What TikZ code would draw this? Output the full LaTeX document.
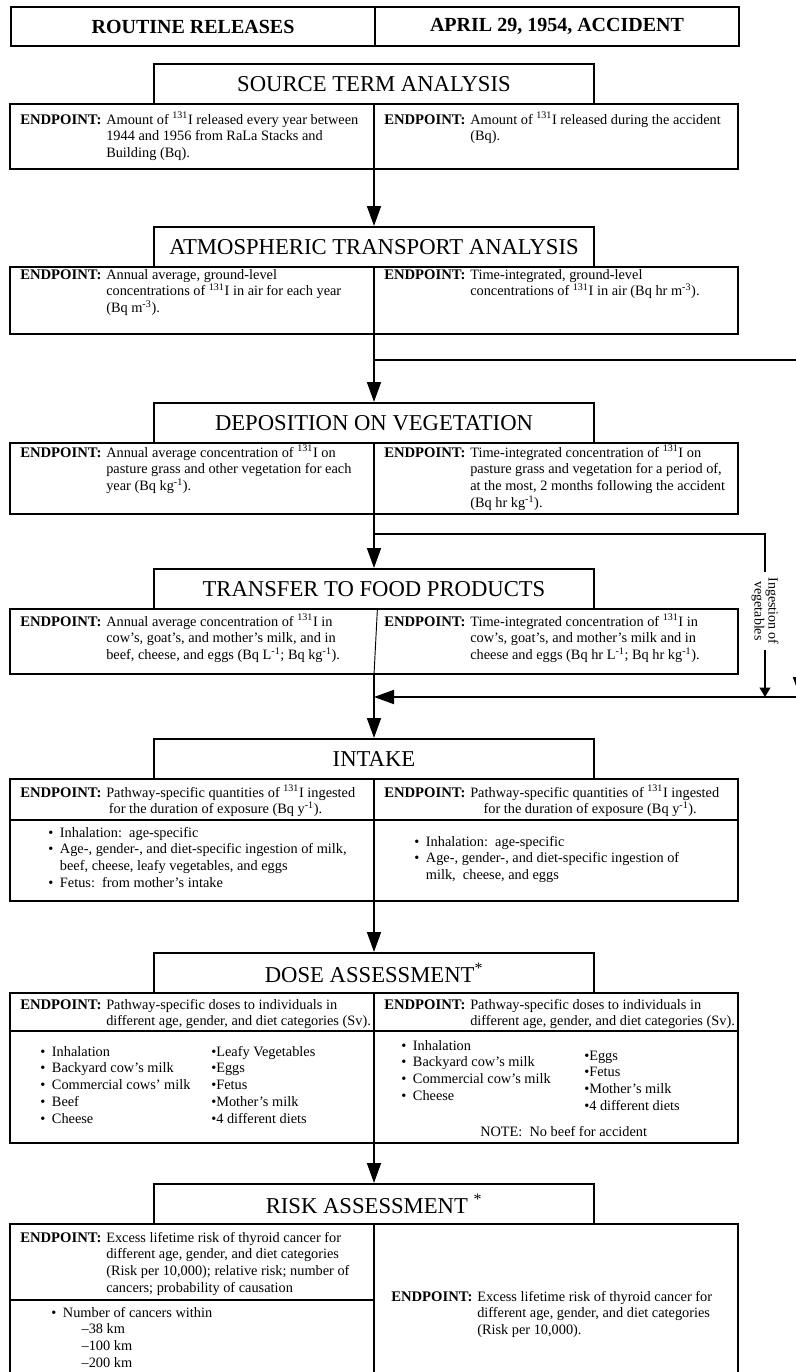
\documentclass[tikz,border=0pt]{standalone}
\usepackage{fontspec}
\setmainfont{Liberation Serif}
\usetikzlibrary{arrows.meta}
\newcommand{\epfont}{\fontsize{10.75}{12.6}\selectfont}
\newcommand{\iso}{\textsuperscript{131}I}
\newcommand{\supx}[1]{\textsuperscript{#1}}
\newcommand{\ept}[1]{\makebox[64.5pt][l]{\fontsize{11}{12.6}\selectfont\textbf{ENDPOINT:}}\begin{tabular}[t]{@{}l@{}}#1\end{tabular}}
\newcommand{\blist}[1]{\begin{tabular}[t]{@{}l@{\hspace{5pt}}l@{}}#1\end{tabular}}
\newcommand{\plist}[1]{\begin{tabular}[t]{@{}l@{}}#1\end{tabular}}
\begin{document}
\begin{tikzpicture}[x=0.75pt,y=-0.75pt,
  hdr/.style={draw, line width=1.5pt, anchor=north west, minimum width=364*0.75pt, minimum height=39*0.75pt, font=\fontsize{15}{17}\selectfont\bfseries},
  stage/.style={draw, line width=1.5pt, anchor=north, minimum width=440*0.75pt, minimum height=40*0.75pt, font=\fontsize{17}{20}\selectfont},
  epbox/.style={draw, line width=1.5pt, anchor=north, minimum width=728*0.75pt},
  txt/.style={anchor=base west, inner sep=0pt, font=\epfont},
  div/.style={line width=1pt},
  link/.style={line width=1.3pt},
  arr/.style={link, -{Triangle[length=15pt,width=10.5pt]}},
  arrsm/.style={link, -{Triangle[length=7pt,width=8pt]}}]
\useasboundingbox (0,0) rectangle (796,1372);

\node[hdr] (hdrL) at (10,6) {ROUTINE RELEASES};
\node[hdr] (hdrR) at (374,6) {APRIL 29, 1954, ACCIDENT};

\node[stage] (src) at (374,63) {SOURCE TERM ANALYSIS};
\node[epbox, minimum height=65*0.75pt] (ep1) at (374,103) {};
\node[txt] (ep1l) at (20,124) {\ept{Amount of \iso{} released every year between\\1944 and 1956 from RaLa Stacks and\\Building (Bq).}};
\node[txt] (ep1r) at (384,124) {\ept{Amount of \iso{} released during the accident\\(Bq).}};

\node[stage] (atm) at (374,226) {ATMOSPHERIC TRANSPORT ANALYSIS};
\node[epbox, minimum height=67*0.75pt] (ep2) at (374,266) {};
\node[txt] (ep2l) at (20,279) {\ept{Annual average, ground-level\\concentrations of \iso{} in air for each year\\(Bq m\supx{-3}).}};
\node[txt] (ep2r) at (384,279) {\ept{Time-integrated, ground-level\\concentrations of \iso{} in air (Bq hr m\supx{-3}).}};

\node[stage] (dep) at (374,402) {DEPOSITION ON VEGETATION};
\node[epbox, minimum height=71*0.75pt] (ep3) at (374,442) {};
\node[txt] (ep3l) at (20,457) {\ept{Annual average concentration of \iso{} on\\pasture grass and other vegetation for each\\year (Bq kg\supx{-1}).}};
\node[txt] (ep3r) at (384,457) {\ept{Time-integrated concentration of \iso{} on\\pasture grass and vegetation for a period of,\\at the most, 2 months following the accident\\(Bq hr kg\supx{-1}).}};

\node[stage] (trans) at (374,568) {TRANSFER TO FOOD PRODUCTS};
\node[epbox, minimum height=65*0.75pt] (ep4) at (374,608) {};
\node[txt] (ep4l) at (20,626) {\ept{Annual average concentration of \iso{} in\\cow's, goat's, and mother's milk, and in\\beef, cheese, and eggs (Bq L\supx{-1}; Bq kg\supx{-1}).}};
\node[txt] (ep4r) at (384,626) {\ept{Time-integrated concentration of \iso{} in\\cow's, goat's, and mother's milk and in\\cheese and eggs (Bq hr L\supx{-1}; Bq hr kg\supx{-1}).}};

\node[stage] (intake) at (374,738) {INTAKE};
\node[epbox, minimum height=122*0.75pt] (ep5) at (374,778) {};
\node[txt] (ep5l) at (20,797) {\ept{Pathway-specific quantities of \iso{} ingested\\\hspace{2pt}for the duration of exposure (Bq y\supx{-1}).}};
\node[txt] (ep5r) at (384,797) {\ept{Pathway-specific quantities of \iso{} ingested\\\hspace{10pt}for the duration of exposure (Bq y\supx{-1}).}};
\node[txt] (in5l) at (48,837) {\blist{\textbullet & Inhalation:\ \ age-specific\\ \textbullet & Age-, gender-, and diet-specific ingestion of milk,\\ & beef, cheese, leafy vegetables, and eggs\\ \textbullet & Fetus:\ \ from mother's intake}};
\node[txt] (in5r) at (414,846) {\blist{\textbullet & Inhalation:\ \ age-specific\\ \textbullet & Age-, gender-, and diet-specific ingestion of\\ & milk,\ \ cheese, and eggs}};

\node[stage] (dose) at (374,952) {DOSE ASSESSMENT\supx{*}};
\node[epbox, minimum height=150*0.75pt] (ep6) at (374,992) {};
\node[txt] (ep6l) at (20,1009) {\ept{Pathway-specific doses to individuals in\\different age, gender, and diet categories (Sv).}};
\node[txt] (ep6r) at (384,1009) {\ept{Pathway-specific doses to individuals in\\different age, gender, and diet categories (Sv).}};
\node[txt] (ds6l) at (40,1056) {\blist{\textbullet & Inhalation\\ \textbullet & Backyard cow's milk\\ \textbullet & Commercial cows' milk\\ \textbullet & Beef\\ \textbullet & Cheese}};
\node[txt] (ds6m) at (211,1056) {\plist{\textbullet{}Leafy Vegetables\\ \textbullet{}Eggs\\ \textbullet{}Fetus\\ \textbullet{}Mother's milk\\ \textbullet{}4 different diets}};
\node[txt] (ds6r) at (401,1050) {\blist{\textbullet & Inhalation\\ \textbullet & Backyard cow's milk\\ \textbullet & Commercial cow's milk\\ \textbullet & Cheese}};
\node[txt] (ds6s) at (584,1060) {\plist{\textbullet{}Eggs\\ \textbullet{}Fetus\\ \textbullet{}Mother's milk\\ \textbullet{}4 different diets}};
\node[txt] (note) at (480,1136) {NOTE:\ \ No beef for accident};

\node[stage] (risk) at (374,1183) {RISK ASSESSMENT \supx{*}};
\node[epbox, minimum height=190*0.75pt] (ep7) at (374,1223) {};
\node[txt] (ep7l) at (20,1242) {\ept{Excess lifetime risk of thyroid cancer for\\different age, gender, and diet categories\\(Risk per 10,000); relative risk; number of\\cancers; probability of causation}};
\node[txt] (rk7l) at (51,1317) {\blist{\textbullet & Number of cancers within\\ & \hspace{14pt}--38 km\\ & \hspace{14pt}--100 km\\ & \hspace{14pt}--200 km}};
\node[txt] (ep7r) at (391,1301) {\ept{Excess lifetime risk of thyroid cancer for\\different age, gender, and diet categories\\(Risk per 10,000).}};

\node[rotate=-90, align=center, inner sep=3.5pt, font=\fontsize{10.5}{7.8}\selectfont] (veg) at (765,611) {Ingestion of\\vegetables};

\coordinate (far) at (800,360);
\coordinate (ret) at (800,697);
\coordinate (vb) at (765,534);

\draw[div] (ep1.north) -- (ep1.south);
\draw[div] (ep2.north) -- (ep2.south);
\draw[div] (ep3.north) -- (ep3.south);
\draw[line width=0.7pt] ([xshift=2.5pt]trans.south) -- (ep4.south);
\draw[div] (ep5.north) -- (ep5.south);
\draw[div] (ep6.north) -- (ep6.south);
\draw[div] (ep7.north) -- (ep7.south);
\draw[line width=1.5pt] (ep5.west |- 0,820) -- (ep5.east |- 0,820);
\draw[line width=1.5pt] (ep6.west |- 0,1031) -- (ep6.east |- 0,1031);
\draw[line width=1.5pt] (ep7.west |- 0,1300) -- (ep7.north |- 0,1300);

\draw[arr] (ep1.south) -- (atm.north);
\draw[arr] (ep2.south) -- (dep.north);
\draw[arr] (ep3.south) -- (trans.north);
\draw[arr] (ep4.south) -- (intake.north);
\draw[arr] (ep5.south) -- (dose.north);
\draw[arr] (ep6.south) -- (risk.north);

\draw[arr] (ep2.south |- far) -- (far) -- (ret);
\draw[link] (ep3.south |- vb) -- (vb) -- (veg.west);
\draw[arrsm] (veg.east) -- (veg.east |- ret);
\draw[arr] (ret) -- (ret -| ep4.south);
\end{tikzpicture}
\end{document}
